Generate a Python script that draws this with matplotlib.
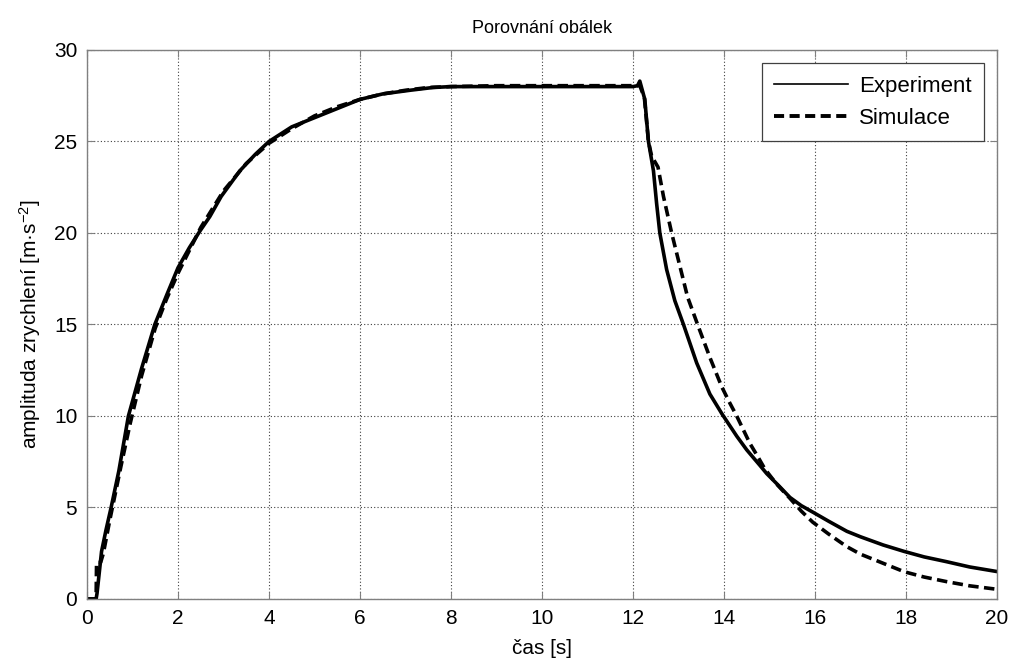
import matplotlib
matplotlib.use("Agg")
import matplotlib.pyplot as plt
from matplotlib.lines import Line2D

plt.rcParams['font.family'] = ['Liberation Sans', 'DejaVu Sans']
plt.rcParams['mathtext.fontset'] = 'custom'
plt.rcParams['mathtext.rm'] = 'Liberation Sans'
plt.rcParams['mathtext.default'] = 'regular'

# odectene hodnoty z obrazku
t_exp = [0, 0.2, 0.22, 0.32, 0.42, 0.53, 0.7, 0.91, 1.2, 1.49, 1.75, 2.0, 2.25, 2.48, 2.7,
         2.95, 3.36, 3.7, 4.0, 4.5, 5.0, 5.5, 6.0, 6.5, 7.1, 7.6, 8.0, 9.0, 10.0, 11.0, 12.0,
         12.1, 12.15, 12.26, 12.34, 12.45, 12.52, 12.59, 12.74, 12.92, 13.11, 13.4, 13.69, 13.96,
         14.28, 14.5, 14.79, 14.94, 15.2, 15.45, 15.7, 15.95, 16.3, 16.7, 17.0, 17.5, 17.96,
         18.4, 18.89, 19.4, 20.0]
a_exp = [0, 0, 0.3, 2.6, 3.8, 5.0, 7.0, 10.0, 12.6, 15.0, 16.6, 18.1, 19.2, 20.1, 20.9,
         22.0, 23.4, 24.3, 25.0, 25.8, 26.3, 26.8, 27.3, 27.6, 27.8, 27.95, 28.0, 28.0, 28.0, 28.0, 28.0,
         28.05, 28.3, 27.3, 25.0, 23.4, 21.6, 20.0, 18.0, 16.3, 15.0, 12.9, 11.2, 10.1,
         8.9, 8.15, 7.3, 6.85, 6.2, 5.55, 5.1, 4.75, 4.25, 3.7, 3.4, 2.95, 2.6,
         2.3, 2.04, 1.75, 1.5]

t_sim = [0, 0.2, 0.21, 0.3, 0.36, 0.5, 0.6, 0.75, 0.95, 1.2, 1.5, 1.75, 2.0, 2.5, 3.0, 3.5,
         4.0, 4.5, 5.0, 5.5, 6.0, 6.5, 7.0, 7.5, 8.0, 9.0, 10.0, 11.0, 12.0, 12.15, 12.25, 12.34,
         12.41, 12.55, 12.67, 12.85, 13.03, 13.2, 13.42, 13.69, 13.95, 14.13, 14.28, 14.57, 14.75,
         14.9, 15.15, 15.45, 15.7, 15.95, 16.3, 16.7, 17.0, 17.5, 17.96, 18.4, 18.89, 19.4, 20.0]
a_sim = [0, 0, 2.0, 2.0, 2.5, 4.3, 5.5, 7.3, 9.6, 12.2, 14.8, 16.4, 17.8, 20.3, 22.3, 23.8,
         24.9, 25.7, 26.4, 26.9, 27.3, 27.6, 27.8, 27.95, 28.0, 28.05, 28.05, 28.05, 28.05, 28.05, 27.4, 25.0,
         24.2, 23.6, 22.0, 20.0, 18.2, 16.5, 15.0, 13.2, 11.6, 10.7, 10.0, 8.5, 7.75,
         7.1, 6.3, 5.5, 4.8, 4.2, 3.55, 2.86, 2.45, 1.95, 1.49, 1.2, 0.95, 0.72, 0.53]

x_ticks = list(range(0, 21, 2))
y_ticks = list(range(0, 31, 5))

fig = plt.figure(figsize=(10.14, 6.64), dpi=100)
ax = fig.add_axes([0.0858, 0.0979, 0.8974, 0.8268])

ax.plot(t_exp, a_exp, color='black', lw=2.6, solid_joinstyle='round')
ax.plot(t_sim, a_sim, color='black', lw=2.6, linestyle=(0, (2.9, 1.5)))

ax.set_xlim(0, 20); ax.set_ylim(0, 30)
ax.set_xticks(x_ticks); ax.set_yticks(y_ticks)
ax.grid(True, color='#404040', linestyle=(0, (1, 2)), linewidth=0.8)
ax.tick_params(direction='in', top=True, right=True, labelsize=15, length=5, color='#808080', pad=7)
for s in ax.spines.values():
    s.set_color('#808080'); s.set_linewidth(1.0)

ax.set_title('Porovnání obálek', fontsize=13, pad=12)
ax.set_xlabel('čas [s]', fontsize=15, labelpad=8)
ax.set_ylabel(r'amplituda zrychlení [m·s$^{-2}$]', fontsize=15, labelpad=8)

handles = [Line2D([], [], color='black', lw=1.2),
           Line2D([], [], color='black', lw=2.8, linestyle=(0, (2.6, 1.4)))]
leg = ax.legend(handles, ['Experiment', 'Simulace'], loc='upper right', fontsize=16,
                handlelength=3.3, fancybox=False, framealpha=1, edgecolor='#404040',
                borderaxespad=0.6, handletextpad=0.5, borderpad=0.55, labelspacing=0.5)
leg.get_frame().set_linewidth(0.9)

plt.savefig('out.png', dpi=100)
